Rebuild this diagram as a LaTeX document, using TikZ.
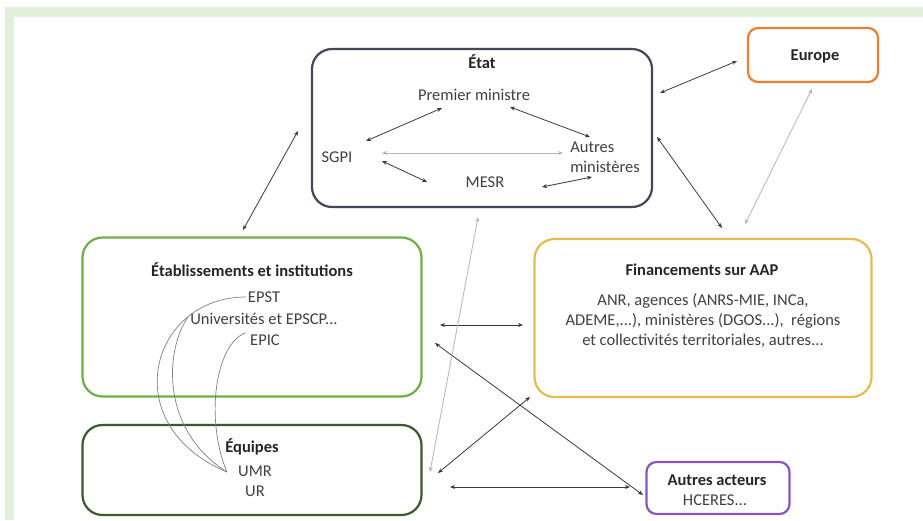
\documentclass[tikz,border=0pt]{standalone}
\usepackage{fontspec}
\setmainfont{Carlito}
\usetikzlibrary{arrows.meta}
\definecolor{framecol}{HTML}{E2EFDA}
\definecolor{etatcol}{HTML}{434857}
\definecolor{europecol}{HTML}{ED7D31}
\definecolor{etabcol}{HTML}{70AD47}
\definecolor{fincol}{HTML}{E2BC52}
\definecolor{equipcol}{HTML}{3D5A2E}
\definecolor{aacol}{HTML}{8A55BE}
\definecolor{txtcol}{HTML}{404040}
\definecolor{ttlcol}{HTML}{262626}
\definecolor{darkln}{HTML}{3A3A3A}
\definecolor{lightln}{HTML}{B4B4B4}
\tikzset{
  box/.style={draw=#1, line width=2.2pt, rounded corners=20pt, fill=white},
  sbox/.style={draw=#1, line width=2.2pt, rounded corners=10pt, fill=white},
  lbl/.style={text=txtcol, inner sep=0pt, font=\fontsize{16.5}{20}\selectfont},
  ttl/.style={text=ttlcol, inner sep=0pt, font=\fontsize{16.5}{20}\selectfont\bfseries},
  arr/.style={draw=darkln, line width=0.8pt, {Stealth[length=5pt,width=4pt]}-{Stealth[length=5pt,width=4pt]}},
  arrl/.style={draw=lightln, line width=0.8pt, {Stealth[length=5pt,width=4pt]}-{Stealth[length=5pt,width=4pt]}},
  curv/.style={draw=gray, line width=0.7pt}
}
\begin{document}
\begin{tikzpicture}[x=1pt,y=-1pt]
\useasboundingbox (0,0) rectangle (923,520);
\fill[framecol] (5,7) rectangle (923,520);
\fill[white] (14,17) rectangle (923,520);

% boxes
\node[box=etatcol, minimum width=340pt, minimum height=158pt] (etat) at (482,128) {};
\node[sbox=europecol, minimum width=130pt, minimum height=54pt] (europe) at (813,55) {};
\node[box=etabcol, minimum width=339pt, minimum height=159pt] (etab) at (252,317) {};
\node[box=fincol, minimum width=337pt, minimum height=158pt] (fin) at (703,318) {};
\node[box=equipcol, minimum width=339pt, minimum height=90pt] (equip) at (252,470) {};
\node[sbox=aacol, minimum width=143pt, minimum height=52pt] (aa) at (718,488) {};

% texts in Etat
\node[ttl] (etatT) at (482,62) {État};
\node[lbl] (pm) at (474,95) {Premier ministre};
\node[lbl] (sgpi) at (337,157) {SGPI};
\node[lbl, align=left] (autres) at (605,157) {Autres\\ ministères};
\node[lbl] (mesr) at (485,182) {MESR};

\node[ttl] (europeT) at (815,56) {Europe};

\node[ttl] (etabT) at (252,270) {Établissements et institutions};
\node[lbl] (epst) at (264,297) {EPST};
\node[lbl] (univ) at (264,319) {Universités et EPSCP...};
\node[lbl] (epic) at (265,340) {EPIC};

\node[ttl] (finT) at (702,270) {Financements sur AAP};
\node[lbl, align=center] (finL) at (703,321) {ANR, agences (ANRS-MIE, INCa,\\ ADEME,...), ministères (DGOS...),~ régions\\ et collectivités territoriales, autres...};

\node[ttl] (equipT) at (252,447) {Équipes};
\node[lbl] (umr) at (255,471) {UMR};
\node[lbl] (ur) at (255,491) {UR};

\node[ttl] (aaT) at (717,480) {Autres acteurs};
\node[lbl] (hceres) at (715,500) {HCERES...};

% connectors inside Etat
\draw[arr] ([shift={(-32,13)}]pm.center) -- ([shift={(29,-16)}]sgpi.center);
\draw[arr] ([shift={(36,12)}]pm.center) -- ([shift={(-15,-20)}]autres.center);
\draw[arrl] ([shift={(45,-4)}]sgpi.center) -- ([shift={(-42,-4)}]autres.center);
\draw[arr] ([shift={(45,4)}]sgpi.center) -- ([shift={(-58,0)}]mesr.center);
\draw[arr] ([shift={(57,5)}]mesr.center) -- ([shift={(-13,20)}]autres.center);

% outer connectors
\draw[arr] ([shift={(-9,-87)}]etab.center) -- ([shift={(-184,3)}]etat.center);
\draw[arr] ([shift={(178,-35)}]etat.center) -- ([shift={(-76,6)}]europe.center);
\draw[arr] ([shift={(175,9)}]etat.center) -- ([shift={(19,-90)}]fin.center);
\draw[arrl] ([shift={(-1,34)}]europe.center) -- ([shift={(42,-94)}]fin.center);
\draw[arr] ([shift={(188,8)}]etab.center) -- ([shift={(-180,7)}]fin.center);
\draw[arr] ([shift={(183,26)}]etab.center) -- ([shift={(-75,7)}]aa.center);
\draw[arr] ([shift={(198,17)}]equip.center) -- ([shift={(-88,-1)}]aa.center);
\draw[arrl] ([shift={(-4,89)}]etat.center) -- ([shift={(178,2)}]equip.center);
\draw[arr] ([shift={(-173,79)}]fin.center) -- ([shift={(186,3)}]equip.center);

% curves to UMR
\draw[curv] ([shift={(-18,0)}]epst.center) .. controls (150,297) and (115,425) .. ([shift={(-28,1)}]umr.center);
\draw[curv] ([shift={(-76,-2)}]univ.center) .. controls (165,350) and (160,430) .. ([shift={(-28,1)}]umr.center);
\draw[curv] ([shift={(-20,-7)}]epic.center) .. controls (215,345) and (205,420) .. ([shift={(-28,1)}]umr.center);
\end{tikzpicture}
\end{document}
